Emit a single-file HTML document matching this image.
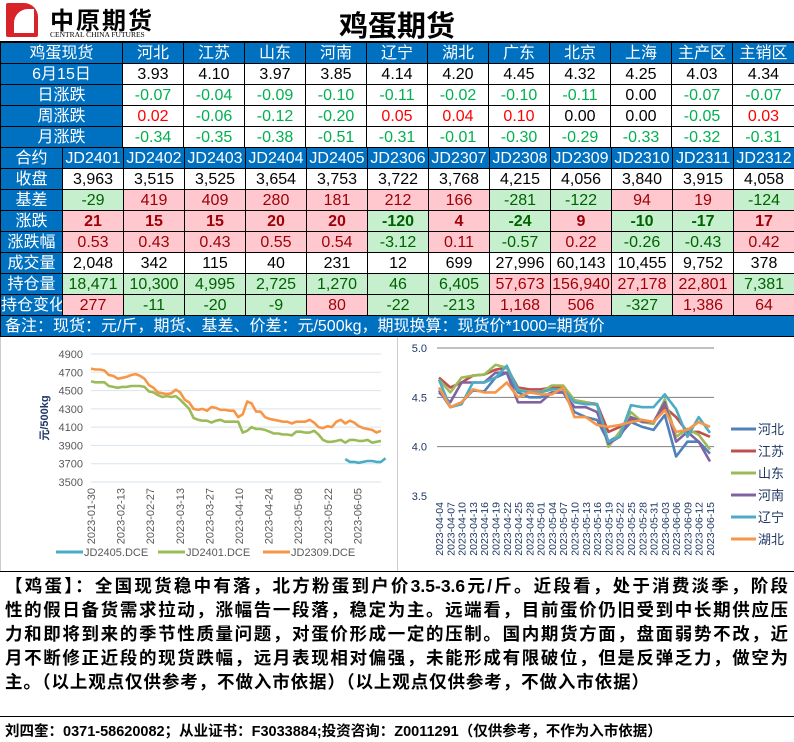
<!DOCTYPE html>
<html><head><meta charset="utf-8">
<style>
*{margin:0;padding:0;box-sizing:border-box}
body{width:794px;height:742px;background:#fff;position:relative;overflow:hidden;font-family:"Liberation Sans","Noto Sans CJK SC",sans-serif}
table{border-collapse:collapse;table-layout:fixed;position:absolute;left:0}
td{border:1px solid #000;height:21px;text-align:center;font-size:16px;line-height:19px;padding:0;white-space:nowrap;overflow:hidden}
.h{background:#0070C0;color:#fff;font-size:16px}
.g{color:#00B050}.r{color:#FF0000}
.pk{background:#FFC7CE;color:#9C0006}
.gn{background:#C6EFCE;color:#006100}
.ln{display:block;white-space:nowrap;text-align:justify;text-align-last:justify}
</style></head><body>
<div style="position:absolute;left:0;top:0;width:794px;height:42px;border-bottom:1px solid #000">
 <div style="position:absolute;left:6px;top:3px;width:32px;height:34px;background:#d8232a;border-radius:2px 14px 2px 2px"><div style="position:absolute;left:8px;top:6px;width:20px;height:24px;background:#fff;border-radius:14px 0 0 0"></div></div>
 <div style="position:absolute;left:50px;top:1px;font-size:24px;font-weight:bold;letter-spacing:2px">中原期货</div>
 <div style="position:absolute;left:50px;top:30px;font-size:7.5px;font-family:'Liberation Serif',serif">CENTRAL CHINA FUTURES</div>
 <div style="position:absolute;left:0;width:794px;top:3px;text-align:center;font-size:29px;font-weight:bold">鸡蛋期货</div>
</div>

<table style="top:42px;width:794px">
<colgroup><col style="width:122px"><col span="10" style="width:61px"><col style="width:62px"></colgroup>
<tr class="h"><td>鸡蛋现货</td><td>河北</td><td>江苏</td><td>山东</td><td>河南</td><td>辽宁</td><td>湖北</td><td>广东</td><td>北京</td><td>上海</td><td>主产区</td><td>主销区</td></tr>
<tr><td class="h">6月15日</td><td>3.93</td><td>4.10</td><td>3.97</td><td>3.85</td><td>4.14</td><td>4.20</td><td>4.45</td><td>4.32</td><td>4.25</td><td>4.03</td><td>4.34</td></tr>
<tr><td class="h">日涨跌</td><td class="g">-0.07</td><td class="g">-0.04</td><td class="g">-0.09</td><td class="g">-0.10</td><td class="g">-0.11</td><td class="g">-0.02</td><td class="g">-0.10</td><td class="g">-0.11</td><td>0.00</td><td class="g">-0.07</td><td class="g">-0.07</td></tr>
<tr><td class="h">周涨跌</td><td class="r">0.02</td><td class="g">-0.06</td><td class="g">-0.12</td><td class="g">-0.20</td><td class="r">0.05</td><td class="r">0.04</td><td class="r">0.10</td><td>0.00</td><td>0.00</td><td class="g">-0.05</td><td class="r">0.03</td></tr>
<tr><td class="h">月涨跌</td><td class="g">-0.34</td><td class="g">-0.35</td><td class="g">-0.38</td><td class="g">-0.51</td><td class="g">-0.31</td><td class="g">-0.01</td><td class="g">-0.30</td><td class="g">-0.29</td><td class="g">-0.33</td><td class="g">-0.32</td><td class="g">-0.31</td></tr>
</table>

<table style="top:147px;width:794px">
<colgroup><col style="width:62px"><col span="12" style="width:61px"></colgroup>
<tr class="h"><td>合约</td><td>JD2401</td><td>JD2402</td><td>JD2403</td><td>JD2404</td><td>JD2405</td><td>JD2306</td><td>JD2307</td><td>JD2308</td><td>JD2309</td><td>JD2310</td><td>JD2311</td><td>JD2312</td></tr>
<tr><td class="h">收盘</td><td>3,963</td><td>3,515</td><td>3,525</td><td>3,654</td><td>3,753</td><td>3,722</td><td>3,768</td><td>4,215</td><td>4,056</td><td>3,840</td><td>3,915</td><td>4,058</td></tr>
<tr><td class="h">基差</td><td class="gn">-29</td><td class="pk">419</td><td class="pk">409</td><td class="pk">280</td><td class="pk">181</td><td class="pk">212</td><td class="pk">166</td><td class="gn">-281</td><td class="gn">-122</td><td class="pk">94</td><td class="pk">19</td><td class="gn">-124</td></tr>
<tr style="font-weight:bold"><td class="h" style="font-weight:normal">涨跌</td><td class="pk">21</td><td class="pk">15</td><td class="pk">15</td><td class="pk">20</td><td class="pk">20</td><td class="gn">-120</td><td class="pk">4</td><td class="gn">-24</td><td class="pk">9</td><td class="gn">-10</td><td class="gn">-17</td><td class="pk">17</td></tr>
<tr><td class="h">涨跌幅</td><td class="pk">0.53</td><td class="pk">0.43</td><td class="pk">0.43</td><td class="pk">0.55</td><td class="pk">0.54</td><td class="gn">-3.12</td><td class="pk">0.11</td><td class="gn">-0.57</td><td class="pk">0.22</td><td class="gn">-0.26</td><td class="gn">-0.43</td><td class="pk">0.42</td></tr>
<tr><td class="h">成交量</td><td>2,048</td><td>342</td><td>115</td><td>40</td><td>231</td><td>12</td><td>699</td><td>27,996</td><td>60,143</td><td>10,455</td><td>9,752</td><td>378</td></tr>
<tr><td class="h">持仓量</td><td class="gn">18,471</td><td class="gn">10,300</td><td class="gn">4,995</td><td class="gn">2,725</td><td class="gn">1,270</td><td class="gn">46</td><td class="gn">6,405</td><td class="pk">57,673</td><td class="pk">156,940</td><td class="pk">27,178</td><td class="pk">22,801</td><td class="gn">7,381</td></tr>
<tr><td class="h">持仓变化</td><td class="pk">277</td><td class="gn">-11</td><td class="gn">-20</td><td class="gn">-9</td><td class="pk">80</td><td class="gn">-22</td><td class="gn">-213</td><td class="pk">1,168</td><td class="pk">506</td><td class="gn">-327</td><td class="pk">1,386</td><td class="pk">64</td></tr>
<tr><td class="h" colspan="13" style="text-align:left;padding-left:4px">备注：现货：元/斤，期货、基差、价差：元/500kg，期现换算：现货价*1000=期货价</td></tr>
</table>

<svg id="c1" width="398" height="234" style="position:absolute;left:0;top:337px;border-left:1px solid #ccc;border-right:1px solid #ccc"></svg>
<svg id="c2" width="396" height="234" style="position:absolute;left:398px;top:337px"></svg>

<div style="position:absolute;left:0;top:571px;width:794px;height:146px;border-top:1px solid #000;border-bottom:1px solid #000;padding:2px 6px 0 5px;font-size:17.5px;line-height:24px;font-weight:bold;color:#000">
<span class="ln">【鸡蛋】：全国现货稳中有落，北方粉蛋到户价3.5-3.6元/斤。近段看，处于消费淡季，阶段</span>
<span class="ln">性的假日备货需求拉动，涨幅告一段落，稳定为主。远端看，目前蛋价仍旧受到中长期供应压</span>
<span class="ln">力和即将到来的季节性质量问题，对蛋价形成一定的压制。国内期货方面，盘面弱势不改，近</span>
<span class="ln">月不断修正近段的现货跌幅，远月表现相对偏强，未能形成有限破位，但是反弹乏力，做空为</span>
<span style="display:block;white-space:nowrap;letter-spacing:0.9px">主。（以上观点仅供参考，不做入市依据）（以上观点仅供参考，不做入市依据）</span>
</div>
<div style="position:absolute;left:5px;top:720px;font-size:14.5px;font-weight:bold">刘四奎：0371-58620082；从业证书：F3033884;投资咨询：Z0011291（仅供参考，不作为入市依据）</div>

<script>
const NS="http://www.w3.org/2000/svg";
function el(svg,tag,attrs,txt){const e=document.createElementNS(NS,tag);for(const k in attrs)e.setAttribute(k,attrs[k]);if(txt!==undefined)e.textContent=txt;svg.appendChild(e);return e;}

// ---- chart 1 data ----
const c1Dates=["2023-01-30","2023-02-13","2023-02-27","2023-03-13","2023-03-27","2023-04-10","2023-04-24","2023-05-08","2023-05-22","2023-06-05"];
const c1Ticks=[3500,3700,3900,4100,4300,4500,4700,4900];
const jd2309=[4740,4730,4730,4720,4670,4660,4630,4640,4650,4670,4680,4660,4630,4560,4530,4480,4470,4460,4470,4510,4480,4400,4370,4300,4290,4300,4280,4320,4310,4290,4290,4280,4280,4210,4240,4380,4360,4270,4270,4210,4190,4180,4170,4160,4160,4140,4160,4160,4160,4180,4150,4100,4090,4110,4100,4160,4180,4140,4170,4150,4110,4090,4080,4070,4040,4060];
const jd2401=[4600,4590,4590,4590,4550,4540,4530,4540,4540,4550,4550,4550,4540,4490,4480,4450,4430,4440,4430,4440,4400,4350,4300,4200,4180,4170,4170,4150,4170,4180,4160,4160,4160,4160,4040,4060,4100,4080,4080,4070,4050,4030,4030,4020,4020,4010,4050,4050,4040,4040,4060,4020,3960,3940,3940,3950,3960,3930,3960,3960,3950,3950,3960,3930,3940,3950];
const jd2405=[null,null,null,null,null,null,null,null,null,null,null,null,null,null,null,null,null,null,null,null,null,null,null,null,null,null,null,null,null,null,null,null,null,null,null,null,null,null,null,null,null,null,null,null,null,null,null,null,null,null,null,null,null,null,null,null,null,3750,3720,3720,3710,3720,3730,3730,3720,3720,3760];

// ---- chart 2 data ----
const c2Dates=["2023-04-04","2023-04-07","2023-04-10","2023-04-13","2023-04-16","2023-04-19","2023-04-22","2023-04-25","2023-04-28","2023-05-01","2023-05-04","2023-05-07","2023-05-10","2023-05-13","2023-05-16","2023-05-19","2023-05-22","2023-05-25","2023-05-28","2023-05-31","2023-06-03","2023-06-06","2023-06-09","2023-06-12","2023-06-15"];
const c2Ticks=[3.5,4.0,4.5,5.0];
const hebei=[4.57,4.40,4.45,4.57,4.56,4.70,4.75,4.55,4.50,4.50,4.55,4.55,4.35,4.30,4.27,4.05,4.12,4.25,4.20,4.17,4.32,3.90,4.05,4.05,3.93];
const jiangsu=[4.70,4.60,4.65,4.72,4.73,4.78,4.80,4.60,4.58,4.58,4.60,4.60,4.47,4.45,4.43,4.15,4.20,4.28,4.27,4.25,4.40,4.30,4.15,4.15,4.10];
const shandong=[4.68,4.55,4.70,4.72,4.73,4.83,4.80,4.58,4.55,4.55,4.62,4.62,4.47,4.45,4.42,4.00,4.15,4.35,4.25,4.23,4.48,4.10,4.18,4.12,3.97];
const henan=[4.55,4.45,4.65,4.65,4.65,4.75,4.75,4.45,4.45,4.45,4.55,4.55,4.40,4.40,4.35,4.03,4.10,4.30,4.25,4.25,4.45,4.05,4.15,4.05,3.85];
const liaoning=[4.68,4.40,4.43,4.65,4.65,4.70,4.82,4.57,4.55,4.55,4.58,4.58,4.45,4.43,4.43,4.05,4.10,4.42,4.40,4.40,4.53,4.38,4.10,4.30,4.14];
const hubei=[4.60,4.40,4.45,4.58,4.55,4.55,4.65,4.50,4.55,4.53,4.53,4.60,4.30,4.30,4.22,4.20,4.22,4.25,4.27,4.25,4.37,4.15,4.17,4.25,4.20];

// chart 1
(function(){
 const s=document.getElementById('c1');
 const x0=90,x1=380,yTop=17,yBot=145,vmin=3500,vmax=4900;
 const n=jd2309.length;
 const X=i=>x0+i*(x1-x0)/(n-1);
 const Y=v=>yBot-(v-vmin)/(vmax-vmin)*(yBot-yTop);
 c1Ticks.forEach(t=>{
  const g=el(s,'line',{x1:x0,x2:x1,y1:Y(t),y2:Y(t),stroke:'#d9e3ee','stroke-width':1});
  
  const l=el(s,'text',{x:x0-8,y:Y(t)+4,'text-anchor':'end','font-size':11,fill:'#595959'},t);
  
 });
 const yt=el(s,'text',{transform:'translate(47,81) rotate(-90)','text-anchor':'middle','font-size':11,'font-weight':'bold',fill:'#1f3864'},'元/500kg');
 
 c1Dates.forEach((d,i)=>{
  const xx=x0+i*29.6;
  const t=el(s,'text',{transform:`translate(${xx+4},${yBot+6}) rotate(-90)`,'text-anchor':'end','font-size':11,fill:'#595959'},d);
  
 });
 function line(arr,color,name){
  let d='';let started=false;
  arr.forEach((v,i)=>{if(v==null)return;d+=(started?'L':'M')+X(i).toFixed(1)+','+Y(v).toFixed(1);started=true;});
  const p=el(s,'path',{d:d,fill:'none',stroke:color,'stroke-width':2.6,'stroke-linejoin':'round'});
  
 }
 line(jd2401,'#9BBB59','series-jd2401');
 line(jd2309,'#F79646','series-jd2309');
 line(jd2405,'#4BACC6','series-jd2405');
 const leg=[['JD2405.DCE','#4BACC6',55],['JD2401.DCE','#9BBB59',157],['JD2309.DCE','#F79646',262]];
 leg.forEach(([t,c,x])=>{
  const l=el(s,'line',{x1:x,x2:x+27,y1:215,y2:215,stroke:c,'stroke-width':3});
  
  const tx=el(s,'text',{x:x+28,y:219,'font-size':11,fill:'#595959'},t);
  
 });
})();

// chart 2
(function(){
 const s=document.getElementById('c2');
 const x0=41,x1=312,yTop=11,yBot=159,vmin=3.5,vmax=5.0;
 const n=c2Dates.length;
 const X=i=>x0+i*(x1-x0)/(n-1);
 const Y=v=>yBot-(v-vmin)/(vmax-vmin)*(yBot-yTop);
 c2Ticks.forEach(t=>{
  if(t>3.5){const g=el(s,'line',{x1:x0-2,x2:x1+4,y1:Y(t),y2:Y(t),stroke:'#808080','stroke-width':1});
  }
  const l=el(s,'text',{x:x0-12,y:Y(t)+4,'text-anchor':'end','font-size':11,fill:'#1f3864'},t.toFixed(1));
  
 });
 c2Dates.forEach((d,i)=>{
  const t=el(s,'text',{transform:`translate(${X(i)+4},${yBot+6}) rotate(-90)`,'text-anchor':'end','font-size':10.5,fill:'#1f3864'},d);
  
 });
 const series=[[hebei,'#4F81BD','河北'],[jiangsu,'#C0504D','江苏'],[shandong,'#9BBB59','山东'],[henan,'#8064A2','河南'],[liaoning,'#4BACC6','辽宁'],[hubei,'#F79646','湖北']];
 series.forEach(([arr,c,name])=>{
  const d=arr.map((v,i)=>(i?'L':'M')+X(i).toFixed(1)+','+Y(v).toFixed(1)).join('');
  const p=el(s,'path',{d:d,fill:'none',stroke:c,'stroke-width':2.6,'stroke-linejoin':'round'});
  
 });
 series.forEach(([arr,c,name],k)=>{
  const y=92+k*22;
  const l=el(s,'line',{x1:333,x2:358,y1:y,y2:y,stroke:c,'stroke-width':3});
  
  const tx=el(s,'text',{x:360,y:y+5,'font-size':13,fill:'#1f3864'},name);
  
 });
})();
</script>
</body></html>
